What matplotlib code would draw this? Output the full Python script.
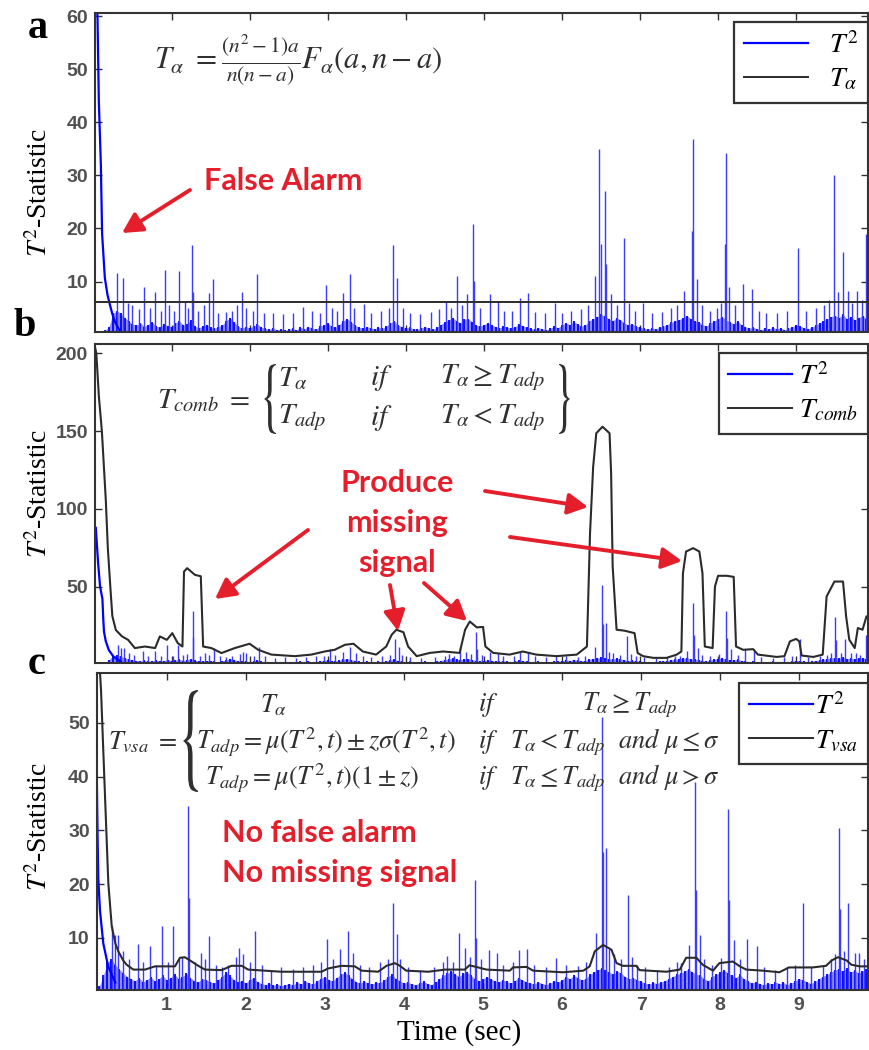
import numpy as np
import matplotlib
matplotlib.use('Agg')
import matplotlib.pyplot as plt
from matplotlib.lines import Line2D
from matplotlib.textpath import TextPath
from matplotlib.patches import PathPatch, FancyArrowPatch
from matplotlib.font_manager import FontProperties
from matplotlib.transforms import Affine2D

plt.rcParams['mathtext.fontset'] = 'stix'
plt.rcParams['font.family'] = ['Liberation Sans', 'DejaVu Sans']

W, H = 870, 1050

# noise floor of T^2 is sampled every 0.05 s starting at 0.05 s
floor_t0 = 0.05
floor_dt = 0.05

# ---------------- panel a : T^2 against the fixed threshold ----------------
t_alpha = 6.1

t2a_head_t = [0.02, 0.045, 0.052, 0.069, 0.095, 0.111, 0.146, 0.18, 0.21, 0.24, 0.274, 0.31, 0.34]
t2a_head_v = [61, 61, 60, 44, 32, 19, 10.7, 7.5, 5.7, 4.0, 2.5, 1.4, 0.7]

t2a_floor = [
    0.5, 0.5, 0.8, 1.5, 4.0, 4.5, 4.0, 3.2, 2.6, 2.0,
    1.8, 2.2, 1.5, 1.9, 2.4, 1.6, 1.4, 2.0, 1.7, 1.5,
    2.2, 2.6, 1.8, 2.0, 2.8, 1.6, 1.3, 1.6, 1.9, 1.4,
    1.2, 1.5, 1.8, 2.6, 3.2, 2.4, 1.6, 1.2, 1.5, 1.3,
    1.6, 2.0, 1.4, 1.2, 1.0, 1.3, 0.9, 1.1, 0.8, 1.0,
    1.2, 0.9, 1.4, 1.1, 1.5, 1.3, 1.0, 1.6, 1.8, 2.2,
    1.6, 1.4, 1.9, 2.6, 3.0, 2.4, 1.8, 1.4, 1.2, 1.5,
    1.3, 1.1, 1.4, 1.2, 1.6, 2.2, 2.6, 1.8, 1.5, 1.2,
    1.4, 1.1, 1.0, 1.3, 1.5, 1.2, 1.0, 1.4, 1.9, 2.4,
    2.8, 3.2, 2.6, 2.2, 2.9, 3.0, 2.4, 1.8, 1.6, 1.9,
    2.2, 1.8, 1.5, 1.3, 1.6, 1.4, 1.2, 1.5, 2.0, 1.7,
    1.4, 1.2, 1.0, 1.3, 1.1, 0.9, 1.2, 1.6, 1.3, 1.8,
    2.2, 1.9, 2.5, 2.0, 1.6, 1.8, 2.6, 3.0, 3.4, 3.8,
    3.5, 3.0, 2.6, 3.2, 2.8, 2.2, 1.8, 2.0, 1.6, 1.4,
    1.2, 1.0, 1.3, 1.1, 1.4, 1.6, 1.9, 2.3, 2.6, 2.8,
    3.2, 3.6, 3.0, 2.6, 2.4, 1.9, 1.6, 2.2, 2.6, 3.0,
    3.4, 2.8, 2.4, 2.0, 2.6, 1.8, 1.5, 1.2, 1.4, 1.1,
    0.9, 1.2, 1.0, 1.4, 1.1, 1.3, 0.9, 1.2, 1.5, 1.8,
    1.6, 1.3, 1.1, 1.4, 1.8, 2.2, 2.6, 3.0, 3.4, 3.6,
    3.2, 3.8, 3.0, 3.4, 2.8, 3.2, 3.6, 3.0,
]

# (time, height) of the individual spikes
t2a_spikes = [
    (0.30, 11.7), (0.38, 10.7), (0.44, 6.0), (0.50, 5.5), (0.58, 4.8), (0.65, 8.9),
    (0.72, 5.0), (0.79, 8.1), (0.86, 4.5), (0.92, 12.1), (0.97, 5.5), (1.03, 4.5),
    (1.09, 12.0), (1.17, 6.4), (1.21, 5.0), (1.26, 16.9), (1.27, 8.0), (1.34, 4.5),
    (1.42, 5.5), (1.48, 7.9), (1.53, 10.4), (1.60, 4.0), (1.70, 4.2), (1.78, 4.5),
    (1.84, 5.5), (1.90, 8.0), (1.95, 5.0), (2.04, 4.5), (2.10, 11.5), (2.18, 4.0),
    (2.30, 4.0), (2.43, 3.8), (2.55, 4.0), (2.68, 5.3), (2.80, 4.5), (2.90, 4.0),
    (2.98, 9.3), (3.05, 5.0), (3.12, 4.5), (3.19, 7.9), (3.28, 11.4), (3.34, 5.0),
    (3.46, 5.8), (3.55, 4.0), (3.68, 4.5), (3.78, 5.0), (3.84, 16.8), (3.89, 10.7),
    (3.96, 5.0), (4.05, 4.0), (4.18, 3.8), (4.32, 4.2), (4.42, 4.8), (4.51, 6.3),
    (4.58, 5.0), (4.66, 11.0), (4.72, 5.5), (4.78, 7.6), (4.86, 20.9), (4.88, 10.1),
    (4.95, 5.0), (5.08, 7.6), (5.18, 6.4), (5.26, 4.5), (5.36, 4.5), (5.46, 6.9),
    (5.56, 7.9), (5.66, 4.2), (5.78, 4.0), (5.91, 6.0), (6.00, 4.0), (6.12, 4.5),
    (6.24, 4.8), (6.33, 5.5), (6.42, 11.0), (6.48, 34.9), (6.50, 17.0), (6.55, 27.1),
    (6.56, 13.3), (6.63, 7.6), (6.70, 5.5), (6.80, 18.2), (6.86, 6.0), (6.94, 4.5),
    (7.04, 5.9), (7.15, 4.0), (7.28, 4.2), (7.40, 5.0), (7.48, 5.5), (7.56, 8.3),
    (7.66, 19.6), (7.68, 36.8), (7.73, 10.4), (7.80, 5.5), (7.90, 4.5), (7.98, 5.0),
    (8.04, 6.0), (8.09, 17.1), (8.10, 34.2), (8.14, 9.0), (8.22, 5.5), (8.32, 9.5),
    (8.43, 8.6), (8.52, 4.5), (8.62, 4.0), (8.75, 4.0), (8.88, 4.5), (9.02, 16.4),
    (9.12, 4.5), (9.25, 5.0), (9.36, 5.5), (9.42, 6.5), (9.48, 30.1), (9.54, 8.0),
    (9.60, 15.5), (9.67, 8.2), (9.72, 6.0), (9.78, 8.2), (9.84, 6.5), (9.89, 19.0),
]

# ---------------- panels b and c : same T^2 record ----------------
t2_head_t = [0.02, 0.03, 0.06, 0.085, 0.115, 0.125, 0.135, 0.157, 0.198, 0.26, 0.35]
t2_head_v = [88, 88, 65, 50, 42, 30, 21, 15, 9, 4.7, 1.7]

t2_floor = [
    0.5, 0.5, 1.0, 3.0, 5.5, 6.0, 5.0, 4.2, 3.4, 2.8,
    2.4, 2.0, 2.6, 1.8, 2.2, 2.8, 1.9, 2.4, 3.0, 2.2,
    2.6, 3.2, 2.4, 2.8, 3.4, 2.6, 2.0, 1.8, 2.4, 2.2,
    1.8, 1.6, 2.2, 2.8, 3.6, 3.0, 2.2, 1.8, 2.0, 1.6,
    2.2, 2.6, 1.8, 1.5, 1.3, 1.6, 1.2, 1.4, 1.1, 1.3,
    1.5, 1.2, 1.8, 1.4, 2.0, 1.6, 1.4, 2.0, 2.4, 2.8,
    2.2, 2.0, 2.6, 3.2, 3.6, 3.0, 2.4, 1.8, 1.6, 1.9,
    1.6, 1.4, 1.8, 1.6, 2.2, 2.8, 3.2, 2.4, 2.0, 1.6,
    1.8, 1.4, 1.3, 1.6, 1.9, 1.5, 1.3, 1.8, 2.4, 3.0,
    3.4, 3.8, 3.2, 2.8, 3.4, 3.6, 3.0, 2.4, 2.0, 2.4,
    2.8, 2.4, 2.0, 1.8, 2.2, 1.9, 1.6, 2.0, 2.6, 2.2,
    1.8, 1.6, 1.4, 1.8, 1.5, 1.3, 1.6, 2.0, 1.8, 2.2,
    2.8, 2.4, 3.0, 2.6, 2.2, 2.4, 3.2, 3.6, 4.0, 4.4,
    4.0, 3.6, 3.2, 3.8, 3.4, 2.8, 2.4, 2.6, 2.2, 1.9,
    1.6, 1.4, 1.7, 1.5, 1.8, 2.0, 2.4, 2.8, 3.2, 3.4,
    3.8, 4.2, 3.6, 3.2, 3.0, 2.4, 2.0, 2.8, 3.2, 3.6,
    4.0, 3.4, 3.0, 2.6, 3.2, 2.4, 2.0, 1.6, 1.8, 1.5,
    1.2, 1.6, 1.4, 1.8, 1.5, 1.7, 1.3, 1.6, 2.0, 2.4,
    2.2, 1.8, 1.5, 1.9, 2.4, 2.8, 3.2, 3.6, 4.0, 4.2,
    3.8, 4.4, 3.6, 4.0, 3.4, 3.8, 4.2, 3.6,
]

t2_spikes = [
    (0.31, 12.2), (0.35, 10.6), (0.39, 10.6), (0.45, 7.5), (0.52, 6.0), (0.64, 8.8),
    (0.70, 5.5), (0.79, 8.5), (0.86, 5.0), (0.94, 12.2), (1.02, 5.5), (1.08, 12.2),
    (1.15, 6.0), (1.20, 6.5), (1.27, 34.5), (1.28, 17.5), (1.36, 5.5), (1.43, 7.2),
    (1.48, 6.0), (1.54, 10.4), (1.62, 5.0), (1.70, 4.5), (1.78, 5.0), (1.88, 6.5),
    (1.92, 8.1), (1.96, 7.0), (2.06, 5.5), (2.12, 11.2), (2.20, 5.0), (2.32, 4.0),
    (2.45, 4.5), (2.60, 4.2), (2.72, 4.5), (2.85, 5.0), (2.95, 5.5), (3.03, 9.7),
    (3.10, 6.0), (3.19, 8.0), (3.29, 11.2), (3.36, 7.2), (3.45, 5.0), (3.56, 4.5),
    (3.70, 5.5), (3.80, 6.0), (3.86, 16.5), (3.91, 10.8), (3.95, 6.0), (4.05, 4.5),
    (4.20, 4.0), (4.38, 4.5), (4.50, 5.5), (4.55, 6.7), (4.62, 5.5), (4.70, 10.9),
    (4.77, 8.1), (4.84, 6.5), (4.90, 20.8), (4.91, 10.0), (4.97, 6.0), (5.08, 7.7),
    (5.18, 7.1), (5.25, 5.0), (5.38, 5.5), (5.46, 7.7), (5.56, 8.0), (5.65, 5.0),
    (5.80, 4.5), (5.92, 6.2), (6.05, 5.0), (6.20, 4.8), (6.30, 5.5), (6.43, 10.9),
    (6.51, 51.2), (6.52, 26.0), (6.56, 26.7), (6.60, 8.0), (6.66, 7.0), (6.75, 6.0),
    (6.83, 18.0), (6.88, 6.5), (6.95, 5.0), (7.05, 4.5), (7.20, 4.0), (7.35, 4.5),
    (7.45, 5.5), (7.51, 5.3), (7.60, 8.7), (7.68, 39.1), (7.69, 19.0), (7.74, 10.6),
    (7.80, 6.0), (7.90, 5.0), (8.01, 6.3), (8.10, 34.0), (8.11, 17.0), (8.17, 9.6),
    (8.25, 6.0), (8.34, 9.8), (8.46, 8.5), (8.55, 4.5), (8.70, 4.0), (8.85, 4.5),
    (8.95, 5.0), (9.05, 16.5), (9.15, 4.5), (9.30, 5.0), (9.40, 6.0), (9.45, 7.0),
    (9.50, 30.4), (9.51, 15.3), (9.57, 7.5), (9.62, 16.5), (9.70, 7.1), (9.76, 7.2),
    (9.82, 6.0), (9.89, 19.0),
]

# combined threshold T_comb (panel b)
tcomb = [
    (0.02, 204), (0.037, 200), (0.07, 172), (0.108, 150), (0.159, 105), (0.184, 75),
    (0.216, 50), (0.242, 31), (0.287, 22), (0.364, 18), (0.444, 15.7), (0.53, 10.4),
    (0.66, 11.4), (0.79, 10.4), (0.85, 17.9), (0.94, 15.7), (1.01, 20), (1.08, 13.6),
    (1.14, 11.4), (1.16, 59.6), (1.20, 61.8), (1.30, 57.5), (1.375, 56.6), (1.405, 11.4),
    (1.51, 10.4), (1.64, 7.2), (1.81, 10.4), (2.0, 13.2), (2.11, 9.3), (2.28, 6.2),
    (2.58, 5.2), (2.79, 6.2), (2.96, 8.2), (3.09, 9.3), (3.22, 12.5), (3.33, 13.2),
    (3.45, 8.2), (3.62, 6.2), (3.75, 11.4), (3.82, 19), (3.88, 22.2), (3.97, 20.6),
    (4.03, 11.4), (4.14, 5.2), (4.31, 7.3), (4.48, 8.2), (4.69, 7.3), (4.76, 22.2),
    (4.82, 27.5), (4.91, 23.7), (4.99, 24), (5.02, 11.4), (5.12, 7.3), (5.33, 6.2),
    (5.50, 8.2), (5.67, 6.2), (5.93, 5.2), (6.19, 6.2), (6.32, 11.4), (6.36, 84.3),
    (6.40, 127), (6.44, 148.6), (6.52, 152.8), (6.61, 148.6), (6.63, 122.9), (6.65, 62.9),
    (6.70, 22.2), (6.80, 21.6), (6.93, 20), (6.97, 7.2), (7.04, 5.2), (7.17, 4.1),
    (7.34, 4.1), (7.47, 6.2), (7.53, 8.2), (7.55, 58.6), (7.59, 72.5), (7.68, 74.7),
    (7.76, 72.5), (7.80, 58.6), (7.83, 11.4), (7.93, 10.4), (7.96, 50), (8.00, 56.9),
    (8.11, 56.9), (8.20, 56.2), (8.23, 11.4), (8.32, 9.3), (8.45, 9.7), (8.51, 6.2),
    (8.75, 4.7), (8.85, 5.2), (8.92, 14.7), (9.00, 16.3), (9.04, 14.7), (9.07, 5.6),
    (9.22, 4.7), (9.34, 6.2), (9.39, 43.6), (9.49, 53.2), (9.60, 53.2), (9.64, 30.7),
    (9.68, 15.8), (9.75, 10.4), (9.79, 23.3), (9.85, 22.2), (9.90, 30.7),
]

# variable adaptive threshold T_vsa (panel c)
tvsa = [
    (0.115, 70), (0.17, 56), (0.198, 45), (0.233, 31.4), (0.262, 20.2), (0.305, 12.2),
    (0.35, 9.0), (0.388, 7.5), (0.45, 5.8), (0.494, 5.0), (0.578, 4.1), (0.726, 4.1),
    (0.852, 4.7), (1.105, 4.7), (1.168, 6.3), (1.23, 6.4), (1.316, 5.6), (1.40, 4.8),
    (1.484, 4.1), (1.695, 4.0), (1.82, 4.8), (1.95, 4.8), (2.03, 4.1), (2.45, 3.7),
    (2.96, 3.7), (3.04, 4.3), (3.21, 4.8), (3.38, 4.7), (3.465, 3.9), (3.675, 3.7),
    (3.78, 4.8), (3.886, 5.3), (3.95, 4.8), (4.03, 3.9), (4.31, 3.7), (4.52, 4.1),
    (4.77, 4.1), (4.83, 4.9), (4.94, 4.5), (5.045, 4.1), (5.34, 3.9), (5.38, 4.5),
    (5.55, 4.6), (5.635, 3.9), (6.01, 3.6), (6.27, 3.9), (6.35, 4.7), (6.415, 7.5),
    (6.52, 8.7), (6.625, 7.8), (6.69, 5.3), (6.77, 4.8), (6.94, 4.8), (6.98, 4.0),
    (7.32, 3.7), (7.49, 4.1), (7.57, 6.3), (7.70, 6.3), (7.78, 5.0), (7.91, 3.9),
    (7.99, 5.3), (8.16, 5.6), (8.25, 4.7), (8.33, 4.1), (8.54, 3.9), (8.75, 3.6),
    (8.87, 4.5), (9.17, 4.5), (9.34, 4.8), (9.41, 5.8), (9.49, 6.4), (9.60, 5.8),
    (9.66, 5.0), (9.765, 4.7), (9.89, 4.7),
]

BLUE = '#0000ff'
BLUE_SPIKE = '#3c3cff'
DARK = '#2b2b2b'
EQ = '#303030'
RED = '#e41e2b'
SERIF = ['Liberation Serif', 'DejaVu Serif']

fig = plt.figure(figsize=(W / 100, H / 100), dpi=100)
fig.patch.set_facecolor('white')


def px_axes(x0, y0, x1, y1):
    return fig.add_axes([x0 / W, 1 - y1 / H, (x1 - x0) / W, (y1 - y0) / H])


def draw_t2(ax, head_t, head_v, floor, spikes):
    ft = floor_t0 + floor_dt * np.arange(len(floor))
    ax.fill_between(ft, 0, floor, color=BLUE, alpha=0.45, lw=0, zorder=2)
    ax.vlines(ft, 0, floor, color=BLUE, lw=1.3, zorder=2)
    st, sv = np.array(spikes).T
    ax.vlines(st, 0, sv, color=BLUE_SPIKE, lw=1.0, zorder=2)
    ax.plot(head_t, head_v, color=BLUE, lw=1.6, zorder=2)


def style(ax, xlim, ylim, yticks, xlabels):
    ax.set_xlim(*xlim)
    ax.set_ylim(*ylim)
    ax.set_xticks(range(1, 10))
    ax.set_yticks(yticks)
    ax.tick_params(direction='in', length=5, width=1, top=True, right=True,
                   color='#333333', labelcolor='#505050', labelsize=14, pad=5)
    if not xlabels:
        ax.set_xticklabels([])
    for lab in ax.get_xticklabels() + ax.get_yticklabels():
        lab.set_fontweight('bold')
    for sp in ax.spines.values():
        sp.set_linewidth(1.5)
        sp.set_color('#333333')


def legend(ax, label2, top, pad, space):
    handles = [Line2D([], [], color=BLUE, lw=1.6), Line2D([], [], color=DARK, lw=1.4)]
    leg = ax.legend(handles, [r'$T^2$' + space, label2 + space], loc='upper right',
                    bbox_to_anchor=(1.0, top), borderaxespad=0, fontsize=20,
                    handlelength=2.3, handletextpad=pad, borderpad=0.35,
                    labelspacing=0.3, fancybox=False, framealpha=1,
                    edgecolor='#333333')
    leg.get_frame().set_linewidth(1.6)


def ftext(x, y, s, **kw):
    fig.text(x / W, 1 - y / H, s, **kw)


brace_fp = FontProperties(family='STIXGeneral')


def brace(ch, x0, x1, y0, y1):
    p = TextPath((0, 0), ch, size=1, prop=brace_fp)
    e = p.get_extents()
    tr = (Affine2D().translate(-e.x0, -e.y0)
          .scale((x1 - x0) / e.width / W, (y1 - y0) / e.height / H)
          .translate(x0 / W, 1 - y1 / H) + fig.transFigure)
    fig.add_artist(PathPatch(p, transform=tr, facecolor=EQ, lw=0))


def arrow(x0, y0, x1, y1):
    fig.add_artist(FancyArrowPatch((x0 / W, 1 - y0 / H), (x1 / W, 1 - y1 / H),
                                   transform=fig.transFigure,
                                   arrowstyle='-|>,head_length=0.6,head_width=0.32',
                                   mutation_scale=20, color=RED, lw=2.8,
                                   shrinkA=0, shrinkB=0))


# ---- a ----
ax1 = px_axes(95, 13, 868, 332)
draw_t2(ax1, t2a_head_t, t2a_head_v, t2a_floor, t2a_spikes)
ax1.axhline(t_alpha, color=DARK, lw=1.4, zorder=3)
style(ax1, (0.02, 9.92), (0.5, 60.6), [10, 20, 30, 40, 50, 60], False)
legend(ax1, r'$T_\alpha$', 0.972, 0.75, r'$\ \ $')

# ---- b ----
ax2 = px_axes(95, 344, 868, 663)
draw_t2(ax2, t2_head_t, t2_head_v, t2_floor, t2_spikes)
ct, cv = np.array(tcomb).T
ax2.plot(ct, cv, color=DARK, lw=1.5, zorder=3)
style(ax2, (0.02, 9.92), (0.8, 206), [50, 100, 150, 200], False)
legend(ax2, r'$T_{comb}$', 0.972, 0.25, '')

# ---- c ----
ax3 = px_axes(96.7, 673, 868, 990)
draw_t2(ax3, t2_head_t, t2_head_v, t2_floor, t2_spikes)
vt, vv = np.array(tvsa).T
ax3.plot(vt, vv, color=DARK, lw=1.5, zorder=3)
style(ax3, (0.115, 9.87), (0.3, 59.3), [10, 20, 30, 40, 50], True)
legend(ax3, r'$T_{vsa}$', 0.968, 0.1, '')

# panel letters and axis titles
for letter, x, y in [('a', 38, 28), ('b', 25, 326), ('c', 37, 664)]:
    ftext(x, y, letter, family=SERIF, fontsize=29, fontweight='bold',
          ha='center', va='center')
for y in [192, 493, 826]:
    ftext(40, y, r'$T^2$-Statistic', family=SERIF, fontsize=20, rotation=90,
          ha='center', va='center')
ftext(459, 1033, 'Time (sec)', family=SERIF, fontsize=21, ha='center', va='center')

# equations
eq = dict(color=EQ, fontsize=22, va='center')
ftext(298, 60, r'$T_\alpha\ =\frac{(n^2-1)a}{n(n-a)}F_\alpha(a,n-a)$', ha='center', **eq)

eq = dict(color=EQ, fontsize=21, va='center', ha='left')
ftext(157, 400, r'$T_{comb}\ =$', **eq)
brace('{', 264, 276, 364, 434)
ftext(278, 378, r'$T_\alpha$', **eq)
ftext(370, 378, r'$if$', **eq)
ftext(440, 378, r'$T_\alpha \geq T_{adp}$', **eq)
ftext(278, 418, r'$T_{adp}$', **eq)
ftext(370, 418, r'$if$', **eq)
ftext(440, 418, r'$T_\alpha < T_{adp}$', **eq)
brace('}', 559, 570, 364, 434)

eq = dict(color=EQ, fontsize=19, va='center', ha='left')
ftext(273, 705, r'$T_\alpha$', color=EQ, fontsize=19, va='center', ha='center')
ftext(478, 705, r'$if$', **eq)
ftext(582, 705, r'$T_\alpha \geq T_{adp}$', **eq)
ftext(108, 742, r'$T_{vsa}\ =$', **eq)
brace('{', 183, 198, 690, 792)
ftext(196, 742, r'$T_{adp}=\mu(T^2,t)\pm z\sigma(T^2,t)$', **eq)
ftext(478, 742, r'$if$', **eq)
ftext(510, 742, r'$T_\alpha < T_{adp}\ \ and\ \mu \leq \sigma$', **eq)
ftext(205, 778, r'$T_{adp}=\mu(T^2,t)(1\pm z)$', **eq)
ftext(478, 778, r'$if$', **eq)
ftext(510, 778, r'$T_\alpha \leq T_{adp}\ \ and\ \mu > \sigma$', **eq)

# red notes
note = dict(family=['Lato', 'DejaVu Sans'], fontweight='bold', fontsize=22, color=RED)
ftext(283, 181, 'False Alarm', ha='center', va='center', **note)
arrow(190, 190, 122, 233)

ftext(397, 483, 'Produce', ha='center', va='center', **note)
ftext(397, 523, 'missing', ha='center', va='center', **note)
ftext(397, 563, 'signal', ha='center', va='center', **note)
arrow(308, 530, 215, 599)
arrow(390, 585, 398, 631)
arrow(424, 583, 467, 621)
arrow(485, 491, 588, 507)
arrow(510, 537, 682, 561)

ftext(222, 833, 'No false alarm', ha='left', va='center', **note)
ftext(222, 873, 'No missing signal', ha='left', va='center', **note)

fig.savefig('out.png', dpi=100)
